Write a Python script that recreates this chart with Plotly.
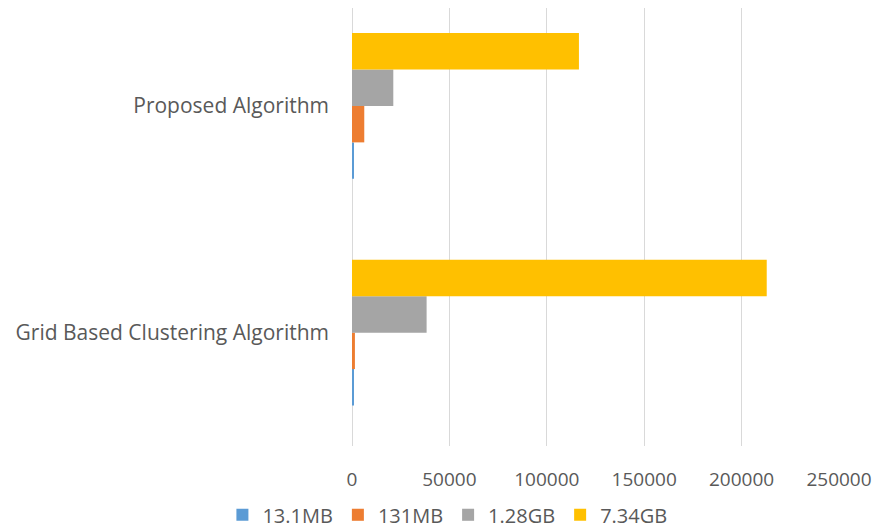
import plotly.graph_objects as go

categories = ["Grid Based Clustering Algorithm", "Proposed Algorithm"]
series_names = ["13.1MB", "131MB", "1.28GB", "7.34GB"]
values_13_1MB = [800, 700]
values_131MB = [1500, 6300]
values_1_28GB = [38300, 21200]
values_7_34GB = [212900, 116500]
colors = ["#5B9BD5", "#ED7D31", "#A5A5A5", "#FFC000"]
x_ticks = [0, 50000, 100000, 150000, 200000, 250000]

series_values = [values_13_1MB, values_131MB, values_1_28GB, values_7_34GB]

font_family = "Open Sans"
text_color = "#595959"

fig = go.Figure()
for name, vals, col in zip(series_names, series_values, colors):
    fig.add_trace(go.Bar(
        y=categories, x=vals, name=name, orientation="h",
        marker=dict(color=col, line=dict(width=0)),
    ))

fig.update_layout(
    width=879, height=528,
    margin=dict(l=352, r=40, t=8, b=82, autoexpand=False),
    paper_bgcolor="white", plot_bgcolor="white",
    barmode="group", bargap=0.357, bargroupgap=0,
    font=dict(family=font_family, size=19, color=text_color),
    showlegend=True,
    legend=dict(orientation="h", x=0.509, xanchor="center", xref="container",
                y=0.025, yanchor="middle", yref="container", traceorder="normal",
                font=dict(size=20, color=text_color)),
    xaxis=dict(range=[0, 250000], tickvals=x_ticks, ticktext=[str(v) for v in x_ticks],
               showgrid=True, gridcolor="#D9D9D9", gridwidth=1,
               zeroline=True, zerolinecolor="#D9D9D9", zerolinewidth=1,
               showline=False, ticks="", ticklabelstandoff=20, automargin=False,
               tickfont=dict(size=19)),
    yaxis=dict(range=[-0.5, 1.432], showgrid=False, zeroline=False, showline=False,
               ticks="", ticklabelstandoff=22, type="category", automargin=False,
               tickfont=dict(size=21)),
)

fig.write_html("out.html")
